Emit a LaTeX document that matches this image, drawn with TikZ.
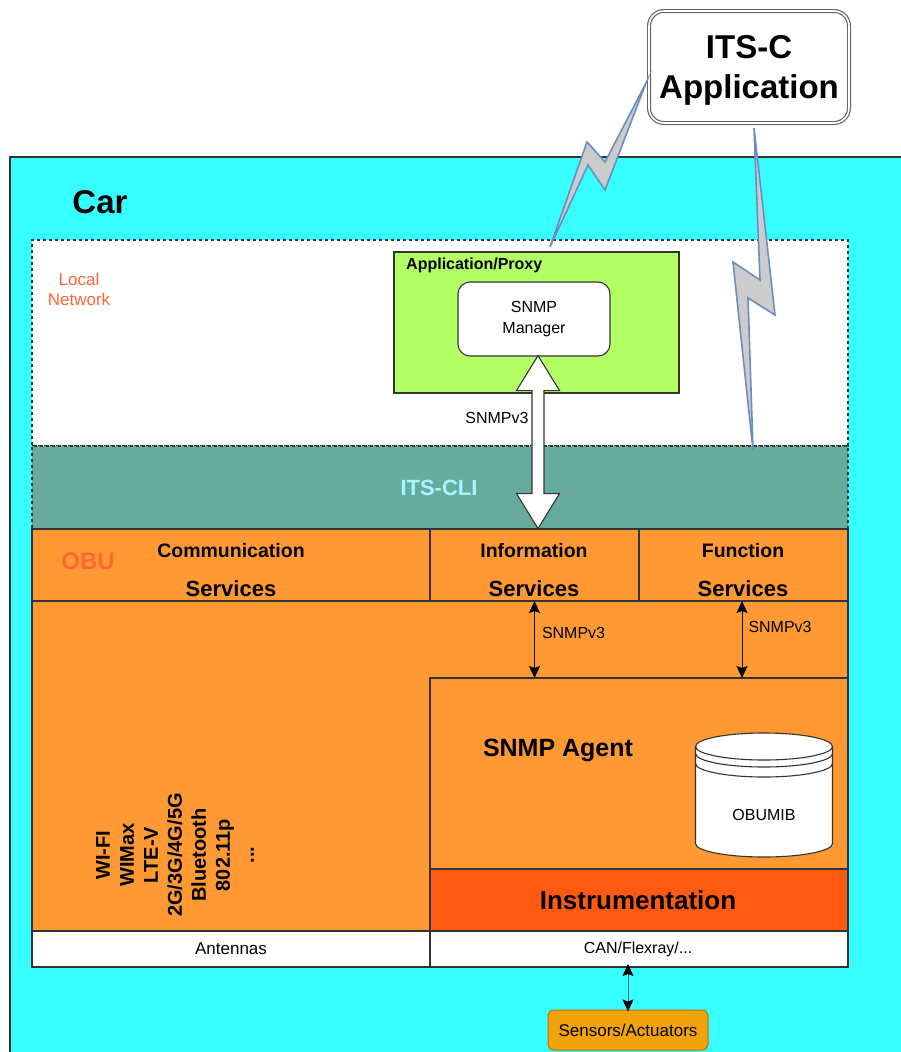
\documentclass[tikz,border=0pt]{standalone}
\usepackage{fontspec}
\setmainfont{Liberation Sans}
\usetikzlibrary{arrows.meta,calc,positioning}
\definecolor{carcyan}{HTML}{38FFFF}
\definecolor{linegray}{HTML}{333333}
\definecolor{itsteal}{HTML}{67AB9F}
\definecolor{clitext}{HTML}{A8F4FF}
\definecolor{proxgreen}{HTML}{B3FF66}
\definecolor{obuorange}{HTML}{FF9933}
\definecolor{obured}{HTML}{FF6633}
\definecolor{instred}{HTML}{FF5A12}
\definecolor{sensfill}{HTML}{F0A30A}
\definecolor{sensbrd}{HTML}{BD7000}
\definecolor{boltgray}{HTML}{CCCCCC}
\definecolor{boltblue}{HTML}{6C8EBF}
\definecolor{canteal}{HTML}{0B6B6B}
\newcommand{\fsz}[2]{\fontsize{#1}{#2}\selectfont}

\begin{document}
\begin{tikzpicture}[x=1pt,y=-1pt,
  cell/.style={draw=linegray,line width=1.1pt,anchor=north west,inner sep=0pt,outer sep=0pt},
  dashcell/.style={cell,dash pattern=on 3pt off 3pt},
  lbl/.style={inner sep=0pt,font=\fsz{16}{19}},
  hdr/.style={inner sep=0pt,font=\bfseries\fsz{19.5}{22}},
  svc/.style={inner sep=0pt,font=\bfseries\fsz{22}{26}},
  bolt/.style={draw=boltblue,fill=boltgray,line width=1.6pt,line join=miter,miter limit=20},
  link/.style={{Stealth[length=12pt,width=11pt,inset=2pt]}-{Stealth[length=12pt,width=11pt,inset=2pt]},line width=1pt},
  bigarrow/.style={draw=linegray,fill=white,line width=1.1pt,line join=miter}]
  \useasboundingbox (0,0) rectangle (900,1052);

  % car and local network
  \node[cell,fill=carcyan,minimum width=900,minimum height=910] (car) at (10,157) {};
  \node[inner sep=0pt,font=\bfseries\fsz{33}{40}] (carlbl) at (100,202) {Car};
  \node[dashcell,fill=white,minimum width=816,minimum height=206] (lan) at (32,240) {};
  \node[lbl,text=obured,align=center,font=\fsz{17}{20}] (lanlbl) at (79,289) {Local\\Network};
  \node[dashcell,fill=itsteal,minimum width=816,minimum height=83] (cli) at (32,446) {};
  \node[inner sep=0pt,text=clitext,font=\bfseries\fsz{22}{26}] (clilbl) at (439,488) {ITS-CLI};

  \node[cell,fill=proxgreen,minimum width=285,minimum height=141] (proxy) at (394,252) {};
  \node[inner sep=0pt,anchor=west,font=\bfseries\fsz{16}{19}] (proxylbl) at (406,265) {Application/Proxy};
  \node[draw=linegray,line width=1.1pt,fill=white,rounded corners=12pt,minimum width=152,
    minimum height=74,inner sep=0pt,align=center,font=\fsz{16}{21}] (mgr) at (534,319) {SNMP\\Manager};

  % OBU
  \node[cell,fill=obuorange,minimum width=398,minimum height=72] (comm) at (32,529) {};
  \node[cell,fill=obuorange,minimum width=209,minimum height=72] (info) at (430,529) {};
  \node[cell,fill=obuorange,minimum width=209,minimum height=72] (func) at (639,529) {};
  \foreach \n/\x/\t in {comm/231/Communication,info/534/Information,func/743/Function}{
    \node[hdr] (\n-hdr) at (\x,551) {\t};
    \node[svc] (\n-svc) at (\x,589) {Services};
  }
  \node[inner sep=0pt,text=obured,font=\bfseries\fsz{24}{28}] (obulbl) at (88,561) {OBU};

  \node[cell,fill=obuorange,minimum width=816,minimum height=330] (radio) at (32,601) {};
  \node[inner sep=0pt,rotate=90,align=center,font=\bfseries\fsz{20}{24}] (radios) at (175,855)
    {WI-FI\\WIMax\\LTE-V\\2G/3G/4G/5G\\Bluetooth\\802.11p\\...};
  \node[cell,fill=obuorange,minimum width=418,minimum height=191] (agent) at (430,678) {};
  \node[inner sep=0pt,font=\bfseries\fsz{25}{30}] (agentlbl) at (558,750) {SNMP Agent};
  \node[cell,fill=instred,minimum width=418,minimum height=62] (instr) at (430,869) {};
  \node[inner sep=0pt,font=\bfseries\fsz{26}{31}] (instrlbl) at (638,900) {Instrumentation};
  \node[cell,fill=white,minimum width=398,minimum height=36] (ant) at (32,931) {};
  \node[lbl,font=\fsz{17}{20}] (antlbl) at (231,949) {Antennas};
  \node[cell,fill=white,minimum width=418,minimum height=36] (can) at (430,931) {};
  \node[lbl] (canlbl) at (638,949) {CAN/Flexray/...};

  % OBUMIB store
  \draw[draw=linegray,line width=1.1pt,fill=white] (695.5,746.5) -- (695.5,843.5)
    arc[start angle=180,end angle=0,x radius=68.5,y radius=13.5] -- (832.5,746.5)
    arc[start angle=0,end angle=-180,x radius=68.5,y radius=13.5];
  \draw[draw=linegray,line width=1.1pt] (695.5,746.5)
    arc[start angle=180,end angle=0,x radius=68.5,y radius=13.5];
  \foreach \dy in {7,17}
    \draw[draw=linegray,line width=1.1pt] (695.5,746.5+\dy)
      arc[start angle=180,end angle=0,x radius=68.5,y radius=13.5];
  \node[lbl] (mib) at (764,815) {OBUMIB};

  % SNMP links
  \coordinate (atip) at ($(mgr.south)+(4,-1)$);
  \draw[bigarrow] (atip) -- ++(21.5,35) -- ++(-15.5,0) -- ++(0,103) -- ++(15.5,0)
    -- ++(-21.5,35) -- ++(-21.5,-35) -- ++(15.5,0) -- ++(0,-103) -- ++(-15.5,0) -- cycle;
  \node[lbl] (snmpbig) at (497,418) {SNMPv3};
  \draw[link] (info.south) -- (info.south |- agent.north)
    node[pos=.42,anchor=west,xshift=7pt,lbl] (snmpinfo) {SNMPv3};
  \draw[link] ([xshift=-1.5pt]func.south) -- ([xshift=-1.5pt]func.south |- agent.north)
    node[pos=.34,anchor=west,xshift=6pt,lbl] (snmpfunc) {SNMPv3};

  \node[draw=sensbrd,fill=sensfill,line width=1pt,rounded corners=6pt,minimum width=160,
    minimum height=40,inner sep=0pt,font=\fsz{17}{20}] (sens) at (628,1030) {Sensors/Actuators};
  \draw[line width=1pt,draw=canteal,{Stealth[length=12pt,width=11pt,inset=2pt,color=black]}-{Stealth[length=12pt,width=11pt,inset=2pt,color=black]}]
    ([yshift=3pt]sens.north |- can.south) -- ([yshift=-2pt]sens.north);

  % ITS-C application and radio links
  \node[draw=linegray!75,double=white,double distance=1.6pt,line width=1.2pt,fill=white,
    rounded corners=15pt,minimum width=200,minimum height=112] (itsc) at (749,67) {};
  \node[inner sep=0pt,align=center,font=\bfseries\fsz{33}{40}] (itsclbl) at (749,70) {ITS-C\\Application};
  \draw[bolt] (646,83) -- (605,162) -- (587,142) -- (550,247) -- (588,165) -- (605,190) -- cycle;
  \draw[bolt] (754,128) -- (760,280) -- (733,262) -- (753,450) -- (748,298) -- (775,315) -- cycle;
\end{tikzpicture}
\end{document}
